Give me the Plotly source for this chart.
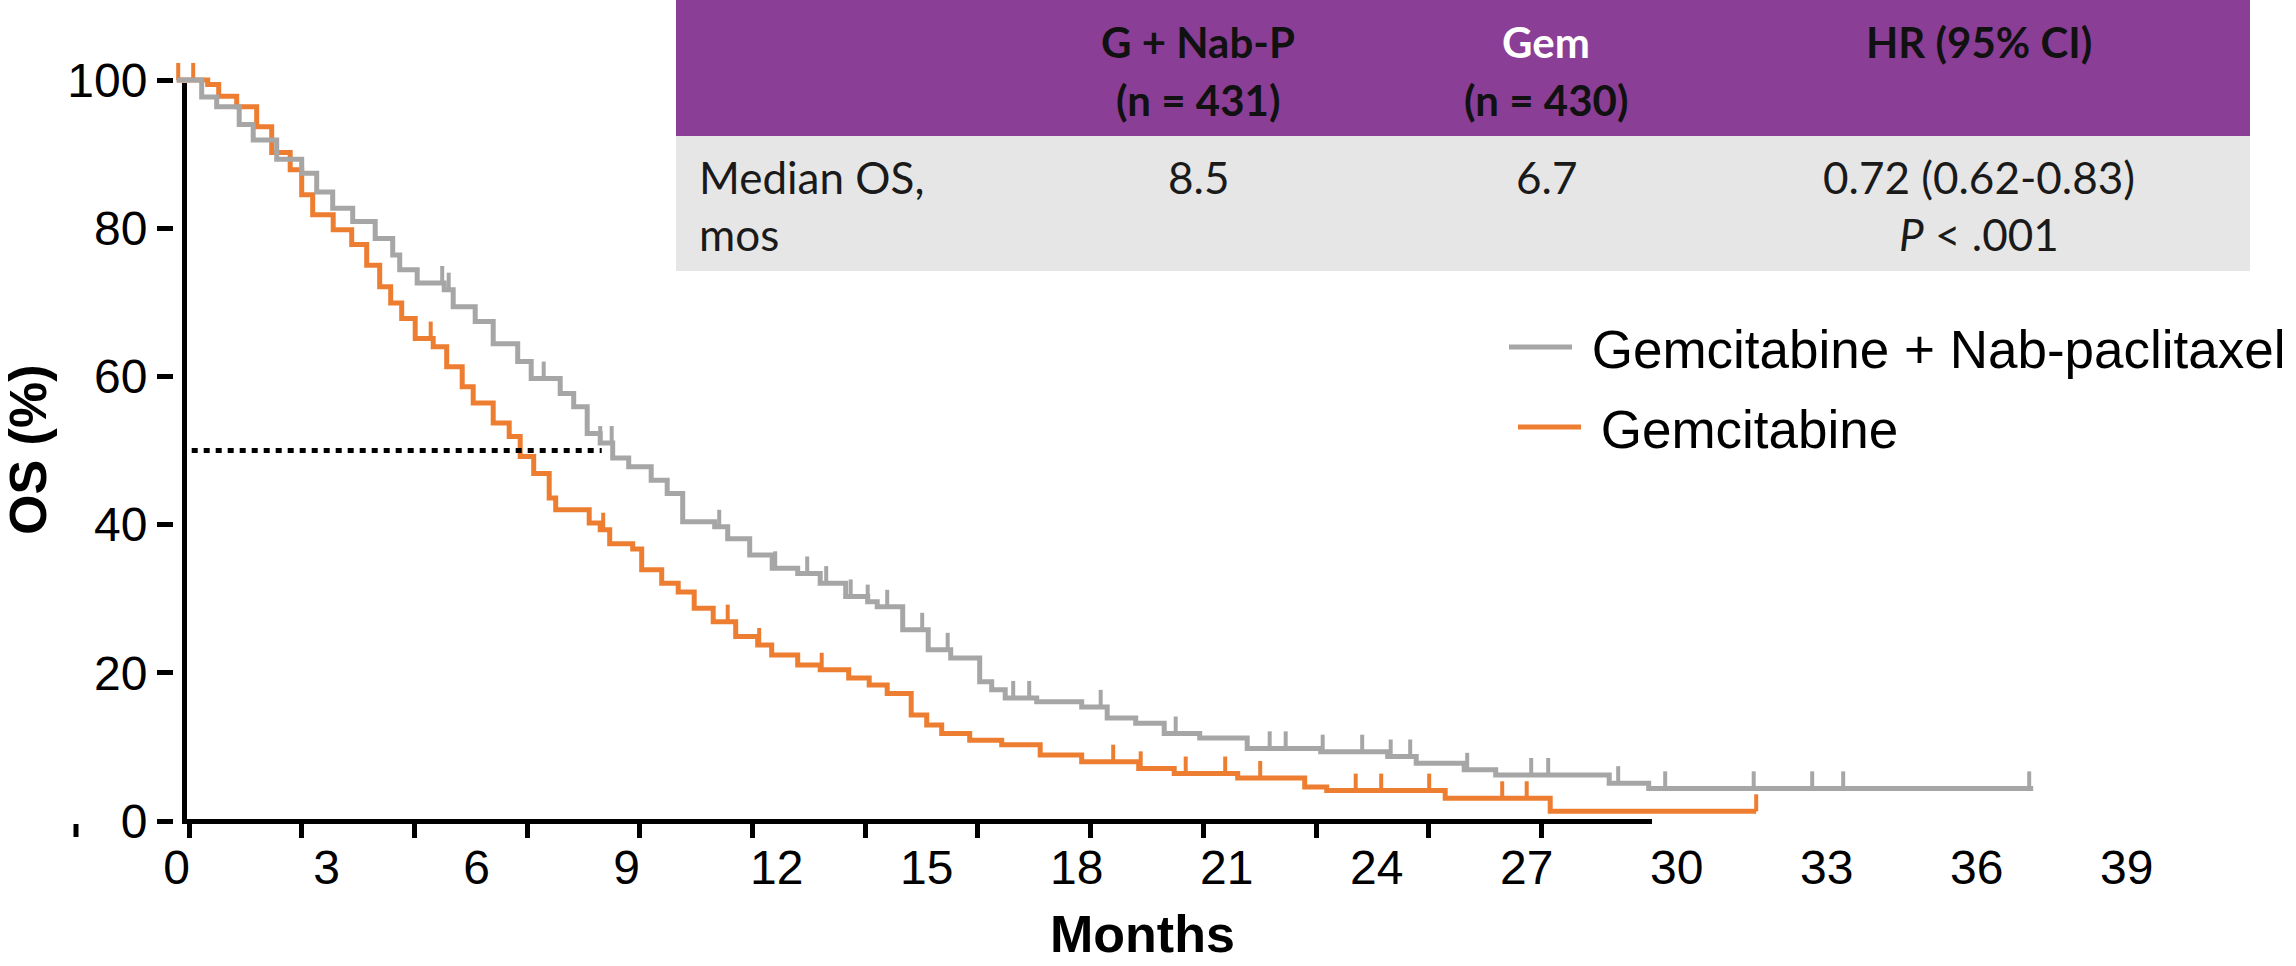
import numpy as np
import plotly.graph_objects as go

# ---------------- data ----------------
# Gemcitabine + Nab-paclitaxel: step start times (months) and survival (%)
nab_t = [0, 0.5, 0.8, 1.25, 1.53, 2.0, 2.5, 2.8, 3.12, 3.52,
         3.97, 4.32, 4.46, 4.81, 5.35, 5.53, 5.97, 6.33, 6.82, 7.09,
         7.67, 7.94, 8.21, 8.47, 8.72, 9.04, 9.49, 9.81, 10.12, 10.76,
         11.02, 11.46, 11.91, 12.42, 12.87, 13.38, 13.82, 14.01, 14.52, 15.03,
         15.48, 16.06, 16.3, 16.57, 17.2, 18.1, 18.61, 19.18, 19.75, 20.46,
         21.41, 22.88, 24.22, 24.79, 25.75, 26.38, 28.65, 29.44]
nab_s = [100, 97.7, 96.4, 94.0, 91.9, 89.3, 87.4, 84.9, 82.7, 80.9,
         78.6, 76.4, 74.4, 72.6, 71.7, 69.4, 67.4, 64.4, 62.0, 59.7,
         57.7, 55.9, 52.3, 51.0, 49.0, 47.8, 46.0, 44.2, 40.4, 39.7,
         38.1, 35.9, 34.1, 33.4, 32.1, 30.3, 29.6, 28.9, 25.8, 23.1,
         22.0, 18.8, 17.7, 16.6, 16.1, 15.4, 13.9, 13.2, 11.8, 11.2,
         9.8, 9.35, 8.7, 7.8, 6.9, 6.2, 5.1, 4.4]
nab_end = 37.13
nab_cens = [5.31, 5.44, 7.34, 8.47, 8.70, 10.85, 11.97, 12.61, 12.99, 13.48,
            13.82, 14.21, 14.91, 15.42, 16.73, 17.05, 18.48, 19.98, 21.86, 22.18,
            22.92, 23.71, 24.28, 24.67, 25.81, 27.09, 27.43, 28.83, 29.77, 31.54,
            32.71, 33.33, 37.05]

# Gemcitabine
gem_t = [0, 0.62, 0.84, 1.2, 1.6, 1.9, 2.27, 2.5, 2.72, 3.13,
         3.5, 3.8, 4.06, 4.28, 4.5, 4.77, 5.13, 5.4, 5.71, 5.93,
         6.33, 6.65, 6.87, 7.14, 7.45, 7.58, 8.25, 8.47, 8.66, 9.12,
         9.3, 9.7, 10.03, 10.35, 10.73, 11.18, 11.62, 11.9, 12.42, 12.87,
         13.44, 13.85, 14.21, 14.69, 15.0, 15.3, 15.86, 16.5, 17.27, 18.1,
         19.24, 19.95, 21.22, 22.56, 23.0, 25.37, 27.47]
gem_s = [100, 99.4, 97.8, 96.4, 93.7, 90.2, 87.9, 84.5, 81.8, 79.8,
         77.8, 75.0, 72.1, 69.9, 67.8, 65.1, 64.0, 61.3, 58.6, 56.4,
         53.7, 51.9, 49.2, 46.9, 43.6, 42.0, 40.2, 39.3, 37.4, 36.7,
         33.9, 32.1, 30.9, 28.7, 26.9, 24.9, 23.75, 22.4, 21.05, 20.4,
         19.3, 18.35, 17.2, 14.3, 12.95, 11.8, 10.9, 10.3, 8.9, 8.0,
         7.1, 6.4, 5.8, 4.6, 4.1, 3.06, 1.3]
gem_end = 31.59
gem_cens = [0.03, 0.33, 5.08, 8.53, 11.02, 11.65, 12.9, 18.73, 19.28, 20.18,
            20.97, 21.67, 23.58, 24.09, 25.05, 26.51, 27.0, 31.59]

median_x = [0.3, 8.5]
median_y = [50, 50]

x_ticks = list(range(0, 40, 3))
y_ticks = [0, 20, 40, 60, 80, 100]

# table texts
hdr_lines = [["<b>G + Nab-P</b>", "<b>(n = 431)</b>"],
             ["<b>Gem</b>", "<b>(n = 430)</b>"],
             ["<b>HR (95% CI)</b>"]]
row_label = ["Median OS,", "mos"]
row_vals = [["8.5"], ["6.7"], ["0.72 (0.62-0.83)", "<i>P</i> &lt; .001"]]

# ---------------- styling / layout ----------------
GRAY = "#A6A6A6"
ORANGE = "#ED7D31"
PURPLE = "#8B3E96"
ROWGRAY = "#E6E6E6"
W, H = 2296, 966


def step_xy(t, s, end):
    return list(t) + [end], list(s) + [s[-1]]


def value_at(t, s, c):
    idx = np.searchsorted(np.array(t), np.array(c), side="right") - 1
    return [s[i] for i in idx]


def py(px):  # pixel-from-top -> paper y
    return 1 - px / H


fig = go.Figure()

gx, gy = step_xy(gem_t, gem_s, gem_end)
nx, ny = step_xy(nab_t, nab_s, nab_end)

fig.add_trace(go.Scatter(x=gx, y=gy, mode="lines", line=dict(color=ORANGE, width=5, shape="hv"),
                         name="\u00a0Gemcitabine", legend="legend2"))
fig.add_trace(go.Scatter(x=gem_cens, y=value_at(gem_t, gem_s, gem_cens), mode="markers",
                         marker=dict(size=1, color="rgba(0,0,0,0)"), showlegend=False, hoverinfo="skip",
                         error_y=dict(type="data", symmetric=False, array=[2.3] * len(gem_cens),
                                      arrayminus=[0] * len(gem_cens), thickness=4, width=0, color=ORANGE)))
fig.add_trace(go.Scatter(x=nx, y=ny, mode="lines", line=dict(color=GRAY, width=5, shape="hv"),
                         name="\u00a0Gemcitabine + Nab-paclitaxel", legend="legend"))
fig.add_trace(go.Scatter(x=nab_cens, y=value_at(nab_t, nab_s, nab_cens), mode="markers",
                         marker=dict(size=1, color="rgba(0,0,0,0)"), showlegend=False, hoverinfo="skip",
                         error_y=dict(type="data", symmetric=False, array=[2.3] * len(nab_cens),
                                      arrayminus=[0] * len(nab_cens), thickness=4, width=0, color=GRAY)))
fig.add_trace(go.Scatter(x=median_x, y=median_y, mode="lines", hoverinfo="skip",
                         line=dict(color="black", width=5, dash="6px,6px"), showlegend=False))

# helper subplot that only carries the drawn axis frame
fig.add_trace(go.Scatter(x=[None], y=[None], xaxis="x2", yaxis="y2", showlegend=False, hoverinfo="skip"))

# ---- table as shapes + annotations ----
tbl_left, tbl_right = 676, 2250
hdr_top, hdr_bot, row_bot = 0, 136, 271
col_centers = [1198, 1546, 1979]
hdr_line_y = [42, 100]
row_line_y = [177, 234]
shapes = [
    dict(type="rect", xref="paper", yref="paper", x0=tbl_left / W, x1=tbl_right / W,
         y0=py(hdr_bot), y1=py(hdr_top), fillcolor=PURPLE, line=dict(width=0), layer="below"),
    dict(type="rect", xref="paper", yref="paper", x0=tbl_left / W, x1=tbl_right / W,
         y0=py(row_bot), y1=py(hdr_bot), fillcolor=ROWGRAY, line=dict(width=0), layer="below"),
    dict(type="line", xref="paper", yref="paper", x0=76 / W, x1=76 / W,
         y0=py(824), y1=py(837), line=dict(color="black", width=5)),
]
annotations = []
for ci, lines in enumerate(hdr_lines):
    for li, txt in enumerate(lines):
        color = "white" if (ci == 1 and li == 0) else "#111111"
        annotations.append(dict(text=txt, x=col_centers[ci] / W, y=py(hdr_line_y[li]), xref="paper",
                                yref="paper", showarrow=False, xanchor="center", yanchor="middle",
                                font=dict(family="Lato", size=42, color=color)))
for li, txt in enumerate(row_label):
    annotations.append(dict(text=txt, x=697 / W, y=py(row_line_y[li]), xref="paper", yref="paper",
                            showarrow=False, xanchor="left", yanchor="middle",
                            font=dict(family="Lato", size=44, color="#1a1a1a")))
for ci, lines in enumerate(row_vals):
    for li, txt in enumerate(lines):
        annotations.append(dict(text=txt, x=col_centers[ci] / W, y=py(row_line_y[li]), xref="paper",
                                yref="paper", showarrow=False, xanchor="center", yanchor="middle",
                                font=dict(family="Lato", size=44, color="#1a1a1a")))

annotations += [
    dict(text="<b>Months</b>", x=1142 / W, y=py(934), xref="paper", yref="paper",
         showarrow=False, font=dict(size=52, color="black"), xanchor="center", yanchor="middle"),
    dict(text="<b>OS (%)</b>", x=28 / W, y=py(450), xref="paper", yref="paper",
         showarrow=False, textangle=-90, font=dict(size=52, color="black"),
         xanchor="center", yanchor="middle"),
]

y_bot = 821.0
fig.update_layout(
    width=W, height=H,
    margin=dict(l=0, r=0, t=0, b=0, pad=0, autoexpand=False),
    paper_bgcolor="white", plot_bgcolor="rgba(0,0,0,0)",
    font=dict(family="Liberation Sans, Arial", color="black"),
    showlegend=True,
    legend=dict(x=1504 / W, y=py(306), xanchor="left", yanchor="top",
                bgcolor="rgba(0,0,0,0)", font=dict(size=53, color="black"), itemwidth=63),
    legend2=dict(x=1513 / W, y=py(386), xanchor="left", yanchor="top",
                 bgcolor="rgba(0,0,0,0)", font=dict(size=53, color="black"), itemwidth=63),
    xaxis=dict(domain=[0, 1], range=[-176.7 / 50, (W - 176.7) / 50], anchor="y",
               showline=False, showgrid=False, zeroline=False,
               tickmode="array", tickvals=x_ticks, ticks="outside", ticklen=4,
               tickcolor="rgba(0,0,0,0)", tickfont=dict(size=48, color="black")),
    yaxis=dict(domain=[1 - y_bot / H, 1], range=[0, y_bot / 7.41], anchor="free", position=173 / W,
               showline=False, showgrid=False, zeroline=False,
               tickmode="array", tickvals=y_ticks, ticks="outside", ticklen=16, tickwidth=5,
               tickcolor="black", tickfont=dict(size=48, color="black")),
    xaxis2=dict(domain=[186.5 / W, 1652 / W], range=[(186.5 - 189) / 37.57, (1652 - 189) / 37.57],
                anchor="y2", showline=True, linewidth=5, linecolor="black",
                showgrid=False, zeroline=False, tickmode="array", tickvals=list(range(0, 37, 3)),
                ticks="outside", ticklen=14, tickwidth=5, tickcolor="black", showticklabels=False),
    yaxis2=dict(domain=[1 - 818.5 / H, 1 - 83 / H], range=[0, 1], anchor="x2",
                showline=True, linewidth=5, linecolor="black", showgrid=False, zeroline=False,
                ticks="", showticklabels=False),
    shapes=shapes,
    annotations=annotations,
)

fig.write_html("out.html", config={"displayModeBar": False},
               post_script="document.body.style.margin='0';")
